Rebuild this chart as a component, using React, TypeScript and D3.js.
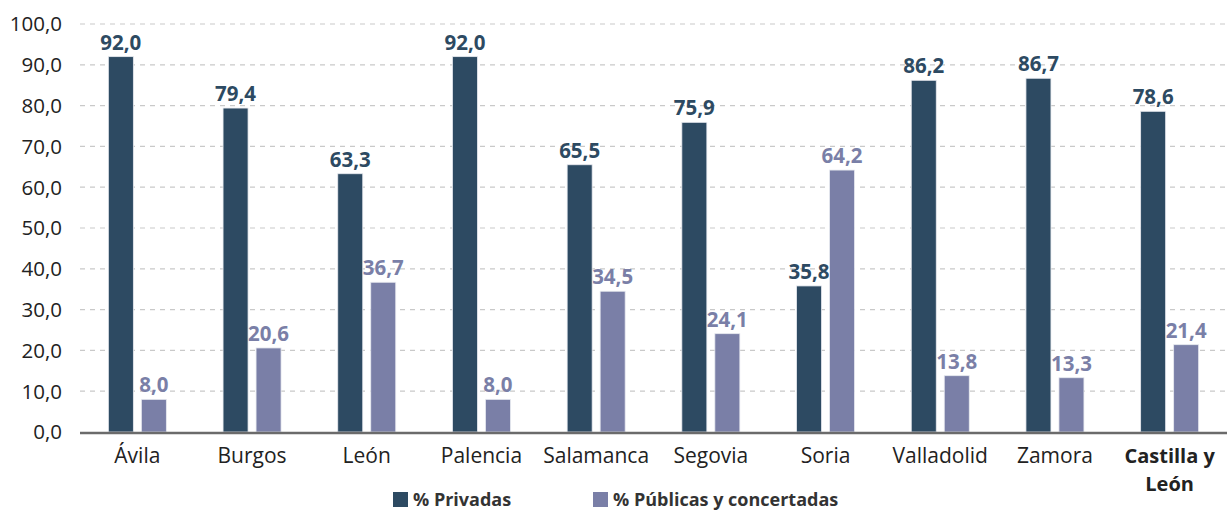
import React, { useEffect, useRef } from 'react';
import * as d3 from 'd3';

const provinces = ['Ávila', 'Burgos', 'León', 'Palencia', 'Salamanca', 'Segovia', 'Soria', 'Valladolid', 'Zamora', 'Castilla y León'];
const privadas = [92.0, 79.4, 63.3, 92.0, 65.5, 75.9, 35.8, 86.2, 86.7, 78.6];
const publicas = [8.0, 20.6, 36.7, 8.0, 34.5, 24.1, 64.2, 13.8, 13.3, 21.4];
const yTicks = [0, 10, 20, 30, 40, 50, 60, 70, 80, 90, 100];
const seriesNames = ['% Privadas', '% Públicas y concertadas'];
const colors = ['#2d4a62', '#7a7fa7'];

const fmt = (v: number) => v.toFixed(1).replace('.', ',');

const App = () => {
  const ref = useRef<SVGSVGElement>(null);

  useEffect(() => {
    const svg = d3.select(ref.current);
    svg.selectAll('*').remove();
    const font = "'Open Sans', 'Noto Sans', sans-serif";
    const margin = { left: 80, right: 4, top: 24, bottom: 80 };
    const width = 1231;

    const x = d3.scaleBand().domain(provinces).range([margin.left, width - margin.right]);
    const y = d3.scaleLinear().domain([0, 100]).range([432, 24]);
    const barW = 25, gap = 8;

    // grid
    svg.append('g').selectAll('line').data(yTicks.filter(t => t > 0)).enter().append('line')
      .attr('x1', margin.left).attr('x2', width - margin.right)
      .attr('y1', d => y(d)).attr('y2', d => y(d))
      .attr('stroke', '#c9c9c9').attr('stroke-width', 1.2).attr('stroke-dasharray', '5,5');

    // y labels
    svg.append('g').selectAll('text').data(yTicks).enter().append('text')
      .attr('x', 62).attr('y', d => y(d)).attr('dy', '0.36em')
      .attr('text-anchor', 'end').attr('font-family', font).attr('font-size', 20.5).attr('fill', '#222')
      .text(d => fmt(d));

    const series = [privadas, publicas];
    series.forEach((vals, si) => {
      const off = si === 0 ? -(barW + gap / 2) : gap / 2;
      const g = svg.append('g');
      g.selectAll('rect').data(vals).enter().append('rect')
        .attr('x', (d, i) => (x(provinces[i]) ?? 0) + x.bandwidth() / 2 + off)
        .attr('y', d => y(d))
        .attr('width', barW)
        .attr('height', d => y(0) - y(d))
        .attr('fill', colors[si])
        .attr('stroke', '#e8eaf0').attr('stroke-width', 0.8);
      g.selectAll('text').data(vals).enter().append('text')
        .attr('x', (d, i) => (x(provinces[i]) ?? 0) + x.bandwidth() / 2 + off + barW / 2)
        .attr('y', d => y(d) - 7)
        .attr('text-anchor', 'middle').attr('font-family', font).attr('font-weight', 'bold')
        .attr('font-size', 20.5).attr('fill', colors[si])
        .text(d => fmt(d));
    });

    // baseline
    svg.append('line').attr('x1', margin.left).attr('x2', width - margin.right)
      .attr('y1', y(0) + 1).attr('y2', y(0) + 1).attr('stroke', '#6b6b6b').attr('stroke-width', 2.5);

    // category labels
    const cg = svg.append('g');
    provinces.forEach((p, i) => {
      const cx = (x(p) ?? 0) + x.bandwidth() / 2;
      const last = i === provinces.length - 1;
      const t = cg.append('text').attr('x', cx).attr('y', 463)
        .attr('text-anchor', 'middle').attr('font-family', font).attr('font-size', last ? 20 : 21)
        .attr('font-weight', last ? 'bold' : 'normal').attr('fill', '#222');
      if (last) {
        t.append('tspan').attr('x', cx).text('Castilla y');
        t.append('tspan').attr('x', cx).attr('dy', 28).text('León');
      } else {
        t.text(p);
      }
    });

    // legend
    const legX = [393, 593];
    seriesNames.forEach((n, i) => {
      svg.append('rect').attr('x', legX[i]).attr('y', 492).attr('width', 15).attr('height', 15).attr('fill', colors[i]);
      svg.append('text').attr('x', legX[i] + 20).attr('y', 506).attr('font-family', font)
        .attr('font-weight', 'bold').attr('font-size', 18).attr('fill', '#333').text(n);
    });
  }, []);

  return <svg ref={ref} width={1231} height={512} style={{ position: 'absolute', left: 0, top: 0 }} />;
};

export default App;
